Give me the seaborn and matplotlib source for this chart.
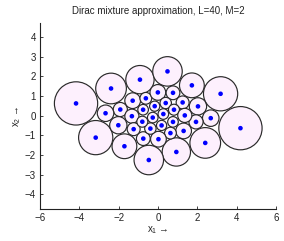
import numpy as np
import pandas as pd
import matplotlib
matplotlib.use("Agg")
import matplotlib.pyplot as plt
from matplotlib.patches import Circle
import seaborn as sns

# Dirac component locations (x1, x2) and circle radii
x1 = [-4.17, -2.39, -0.92, 0.48, 1.72, 3.18,
      4.19, 2.40, 0.93, -0.47, -1.71, -3.17,
      -1.29, -0.62, -0.01, 0.76, 1.25, 2.03, 2.68,
      -1.92, -1.33, -0.76, -0.17, 0.39, 0.81, -0.27,
      1.30, 0.63, 0.02, -0.75, -1.24, -2.02, -2.67,
      1.93, 1.36, 0.76, 0.18, -0.39, -0.80, 0.27]
x2 = [0.63, 1.39, 1.84, 2.26, 1.55, 1.12,
      -0.63, -1.38, -1.84, -2.25, -1.55, -1.11,
      0.77, 0.89, 1.19, 1.17, 0.68, 0.48, -0.12,
      0.32, -0.02, 0.31, 0.49, 0.65, 0.31, -0.09,
      -0.77, -0.88, -1.19, -1.16, -0.68, -0.48, 0.13,
      -0.31, 0.02, -0.31, -0.49, -0.65, -0.30, 0.09]
radius = [1.10, 0.78, 0.72, 0.75, 0.63, 0.87,
          1.10, 0.78, 0.72, 0.75, 0.63, 0.87,
          0.40, 0.30, 0.40, 0.35, 0.33, 0.44, 0.42,
          0.36, 0.36, 0.27, 0.26, 0.29, 0.28, 0.27,
          0.40, 0.30, 0.40, 0.35, 0.33, 0.44, 0.42,
          0.36, 0.36, 0.27, 0.26, 0.29, 0.28, 0.27]

title = "Dirac mixture approximation, L=40, M=2"
xticks = [-6, -4, -2, 0, 2, 4, 6]
yticks = [-4, -3, -2, -1, 0, 1, 2, 3, 4]

df = pd.DataFrame({"x1": x1, "x2": x2, "r": radius})

sns.set_style("ticks")
plt.rcParams["font.family"] = ["Liberation Sans", "DejaVu Sans"]
plt.rcParams["mathtext.fontset"] = "custom"
plt.rcParams["mathtext.rm"] = "Liberation Sans"
plt.rcParams["mathtext.it"] = "Liberation Sans"

fig = plt.figure(figsize=(2.84, 2.41), dpi=100)
ax = fig.add_axes([0.141, 0.133, 0.831, 0.773])

for _, row in df.iterrows():
    ax.add_patch(Circle((row.x1, row.x2), row.r, facecolor="#fdf0fd",
                        edgecolor="#2a2a2a", linewidth=0.85, zorder=1))

sns.scatterplot(data=df, x="x1", y="x2", ax=ax, color="#0000ff",
                s=11, edgecolor="none", zorder=3, legend=False)

ax.set_xlim(-6, 6)
ax.set_ylim(-4.74, 4.74)
ax.set_xticks(xticks)
ax.set_yticks(yticks)
ax.set_xticklabels(["\u2212" + str(-t) if t < 0 else str(t) for t in xticks])
ax.set_yticklabels(["\u2212" + str(-t) if t < 0 else str(t) for t in yticks])
ax.tick_params(direction="in", length=2, width=0.6, labelsize=7, pad=3,
               colors="#222222")
for s in ["top", "right"]:
    ax.spines[s].set_visible(False)
for s in ["left", "bottom"]:
    ax.spines[s].set_linewidth(0.8)
    ax.spines[s].set_color("#222222")

ax.set_title(title, fontsize=7, pad=6, color="#222222")
ax.set_xlabel("x$_1$ \u2192", fontsize=7, labelpad=1, color="#222222")
ax.set_ylabel("x$_2$ \u2192", fontsize=7, labelpad=1, color="#222222")

fig.savefig("out.png", dpi=100)
